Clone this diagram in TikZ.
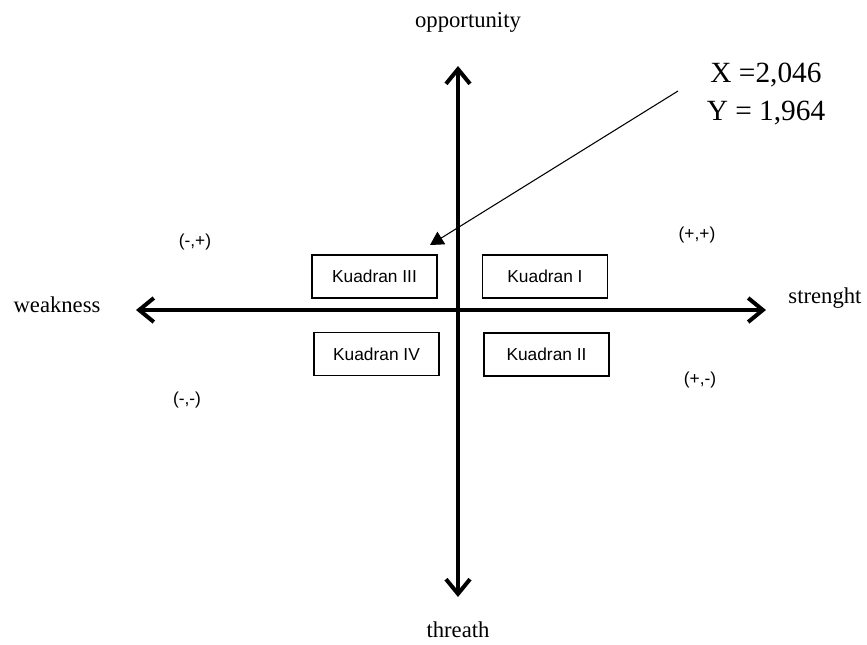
\documentclass[tikz,border=0pt]{standalone}
\usepackage{fontspec}
\setmainfont{Liberation Serif}
\newfontfamily\qfont{Liberation Sans}
\usetikzlibrary{arrows.meta}
\begin{document}
\begin{tikzpicture}[x=0.75pt,y=-0.75pt,
  axis/.style={line width=3pt,{Straight Barb[length=11pt,width=18pt,line width=3pt]}-{Straight Barb[length=11pt,width=18pt,line width=3pt]}},
  axlabel/.style={font=\fontsize{17}{20}\selectfont,inner sep=0pt},
  quad/.style={draw,line width=1.1pt,minimum width=93.5pt,minimum height=32pt,font=\qfont\fontsize{13}{15}\selectfont,inner sep=0pt},
  sign/.style={font=\qfont\fontsize{13}{15}\selectfont,inner sep=0pt},
  callout/.style={line width=0.8pt,-{Triangle[length=10pt,width=11pt]}}]
\useasboundingbox (0,0) rectangle (867,644);
% axis labels
\node[axlabel] (opp) at (468,22) {opportunity};
\node[axlabel] (thr) at (458,630) {threath};
\node[axlabel] (weak) at (57,305) {weakness};
\node[axlabel] (str) at (825,298) {strenght};
% axes
\coordinate (top) at (458,66);
\coordinate (bot) at (458,597);
\coordinate (lft) at (136,310);
\coordinate (rgt) at (766,310);
\draw[axis] (bot) -- (top);
\draw[axis] (lft) -- (rgt);
% quadrants
\node[quad] (k3) at (374.5,276.5) {Kuadran III};
\node[quad] (k1) at (545,276.5) {Kuadran I};
\node[quad] (k4) at (376.5,354) {Kuadran IV};
\node[quad] (k2) at (546.5,354.5) {Kuadran II};
% signs
\node[sign] (s1) at (195,242) {(-,+)};
\node[sign] (s2) at (697,235) {(+,+)};
\node[sign] (s3) at (187,400) {(-,-)};
\node[sign] (s4) at (700,380) {(+,-)};
% callout
\node[font=\fontsize{22}{28.5}\selectfont,align=center,inner sep=0pt] (xy) at (766,94) {X =2,046\\Y = 1,964};
\coordinate (c0) at (678,91);
\coordinate (c1) at (430,245);
\draw[callout] (c0) -- (c1);
\end{tikzpicture}
\end{document}
